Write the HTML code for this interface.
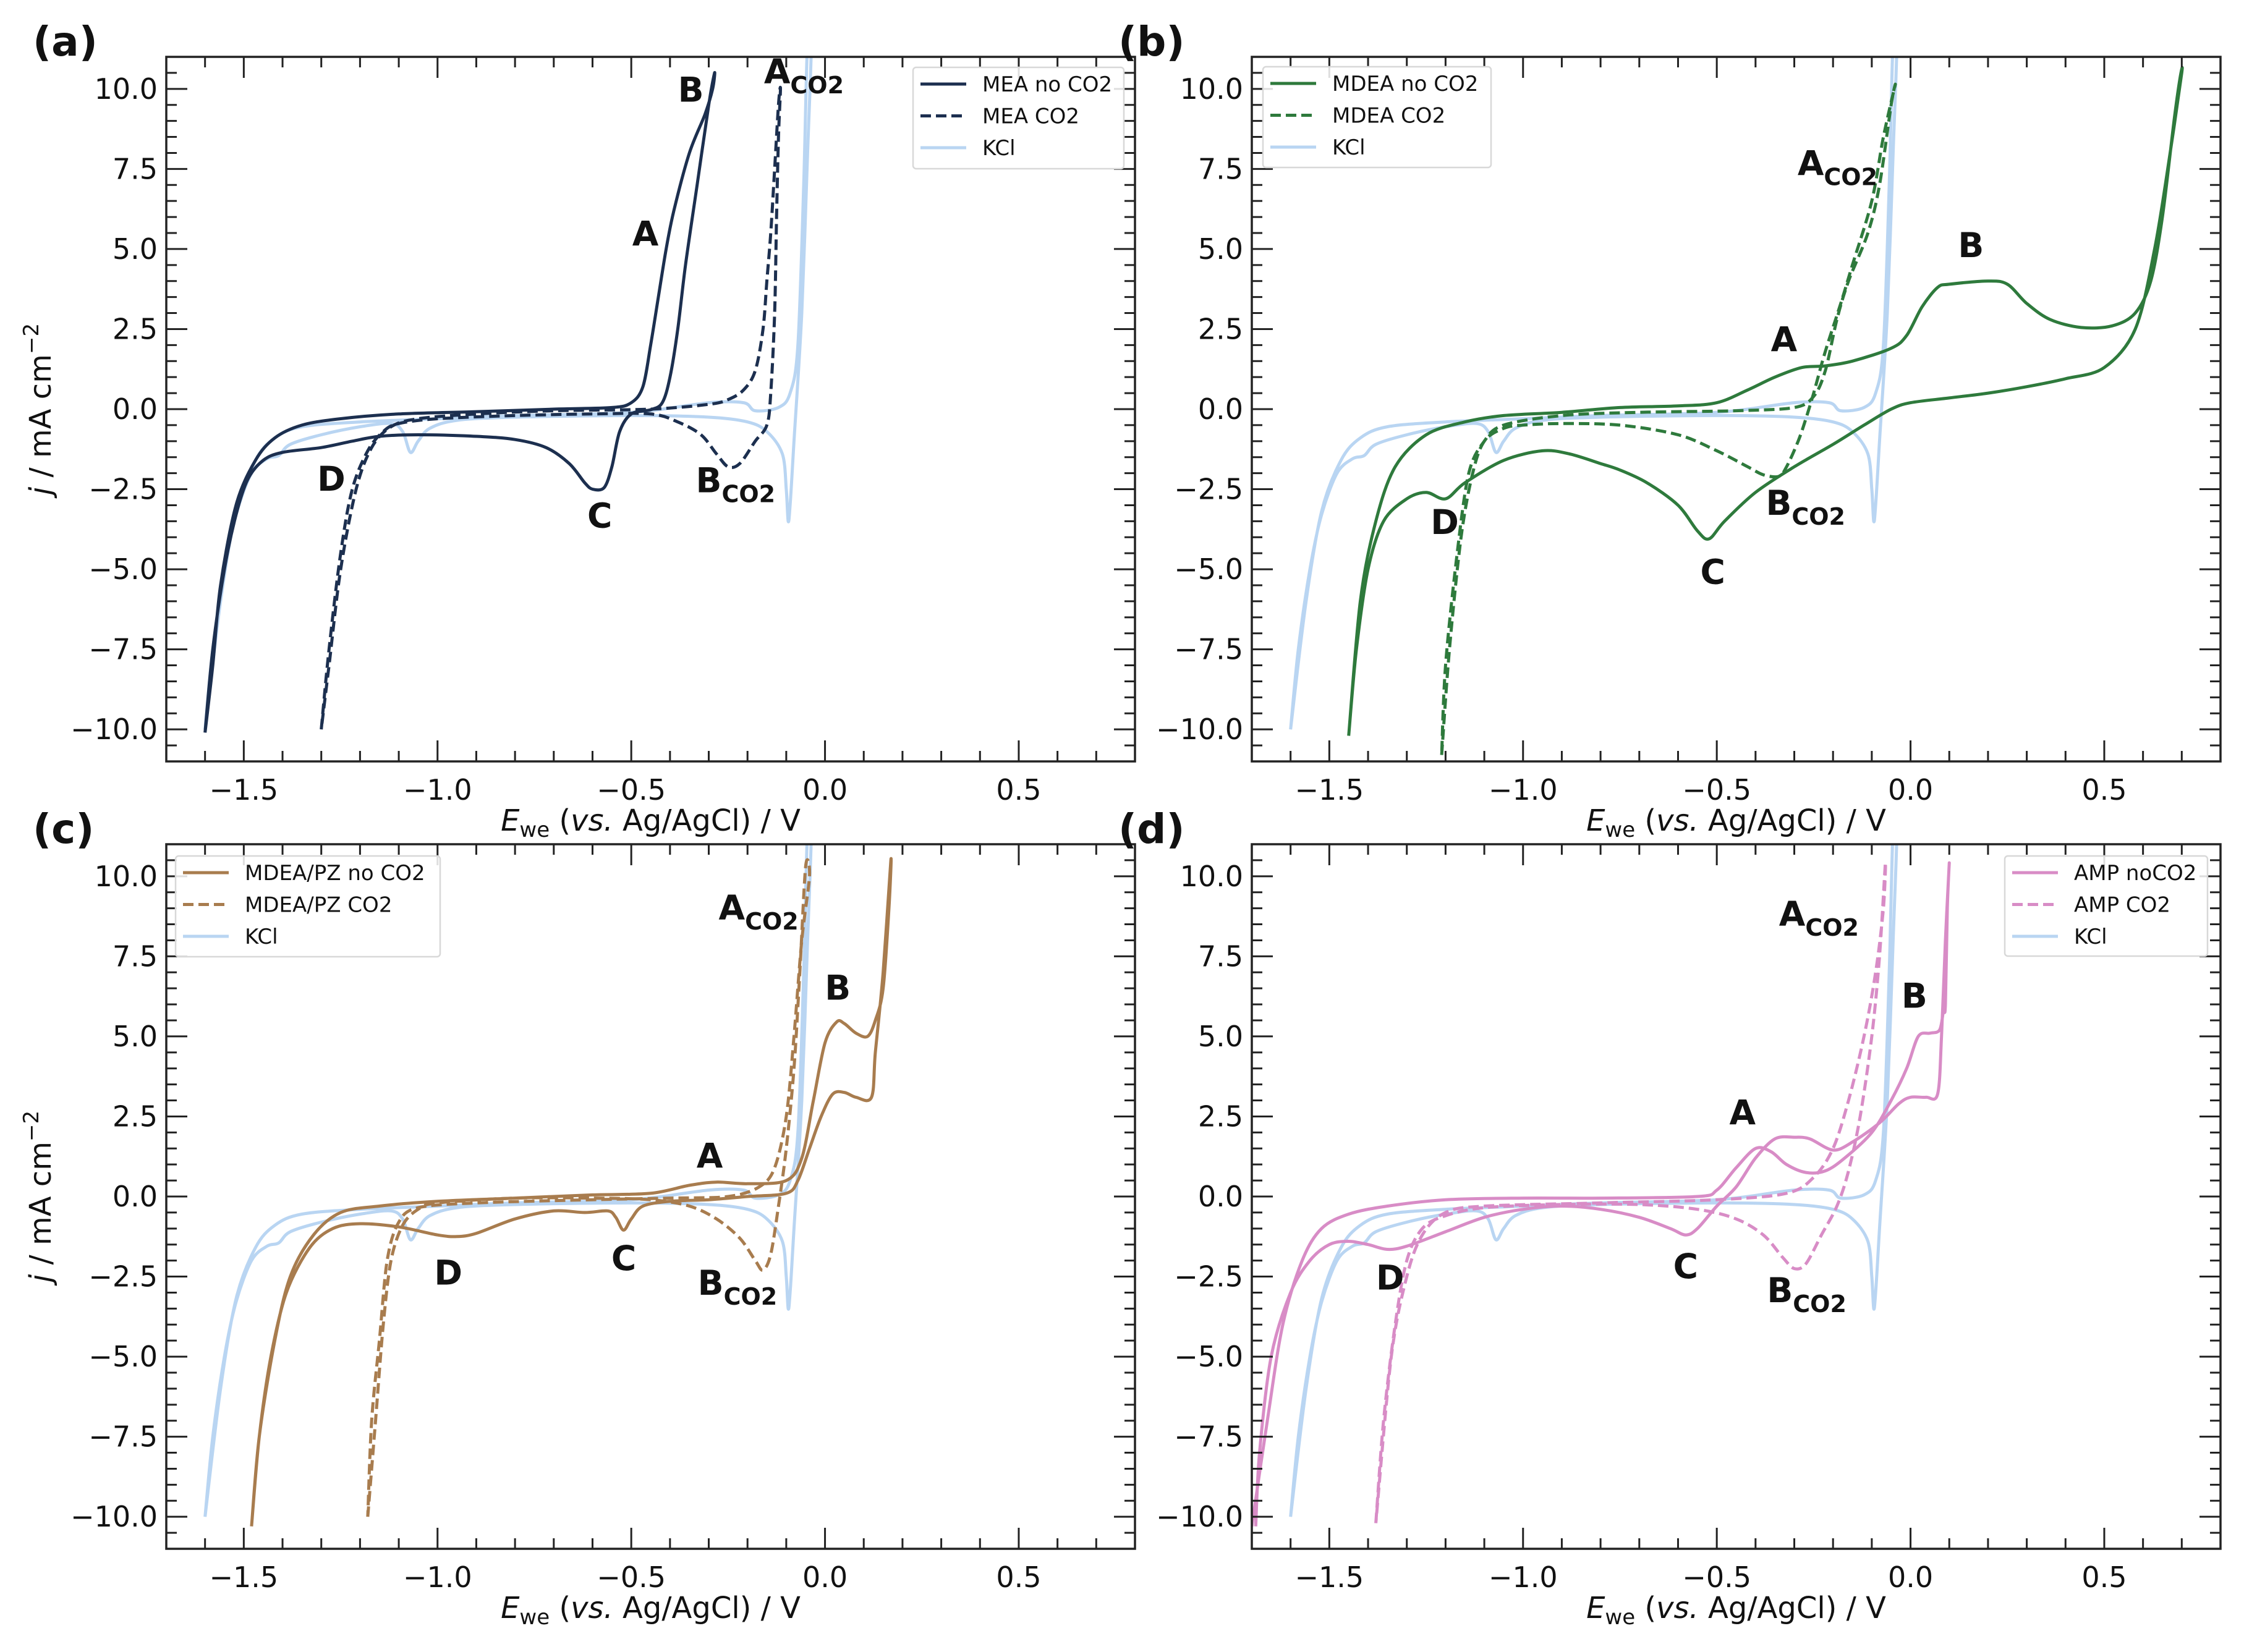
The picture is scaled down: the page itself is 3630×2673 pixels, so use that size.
<!DOCTYPE html>
<html><head><meta charset="utf-8"><style>
html,body{margin:0;padding:0;background:#fff}
svg{display:block}
text{font-family:"DejaVu Sans","Liberation Sans",sans-serif}
</style></head><body>
<svg id="fig" width="3630" height="2673" viewBox="0 0 3630 2673" xmlns="http://www.w3.org/2000/svg"></svg>
<script>
// ---- data: [E (V), j (mA cm^-2)] pairs ----
const kclE=[-1.6,-1.58,-1.55,-1.52,-1.48,-1.44,-1.41,-1.38,-1.3,-1.2,-1.12,-1.09,-1.07,-1.05,-1.02,-0.95,-0.8,-0.5,-0.3,-0.2,-0.15,-0.11,-0.1,-0.095,-0.09,-0.08,-0.06,-0.045,-0.035,-0.045,-0.055,-0.07,-0.09,-0.12,-0.18,-0.21,-0.3,-0.5,-0.8,-1.0,-1.2,-1.35,-1.42,-1.47,-1.52,-1.56,-1.6];
const kclJ=[-10,-7.5,-5,-3.3,-2.0,-1.55,-1.45,-1.1,-0.8,-0.55,-0.45,-0.7,-1.35,-1.0,-0.6,-0.35,-0.25,-0.2,-0.25,-0.4,-0.7,-1.4,-2.5,-3.5,-3.0,-1.0,3,8,11.5,11.5,7,2,0.5,0.05,-0.05,0.2,0.2,-0.1,-0.2,-0.3,-0.4,-0.55,-0.9,-1.6,-3.2,-6,-10];

const meaE=[-1.6,-1.58,-1.55,-1.52,-1.49,-1.45,-1.4,-1.3,-1.22,-1.15,-1.05,-0.9,-0.8,-0.72,-0.66,-0.62,-0.6,-0.57,-0.55,-0.53,-0.5,-0.45,-0.42,-0.4,-0.38,-0.36,-0.33,-0.3,-0.285,-0.29,-0.31,-0.35,-0.39,-0.41,-0.43,-0.45,-0.47,-0.5,-0.55,-0.7,-0.9,-1.1,-1.25,-1.35,-1.42,-1.47,-1.52,-1.56,-1.58,-1.6];
const meaJ=[-10.1,-7.5,-5,-3.3,-2.2,-1.6,-1.35,-1.2,-1.0,-0.85,-0.8,-0.85,-0.95,-1.2,-1.7,-2.3,-2.5,-2.45,-1.8,-0.7,-0.15,-0.02,0.2,1.0,2.5,4.5,7,9.5,10.5,10.0,9.2,8.0,6.2,5.0,3.5,2.0,0.7,0.2,0.05,0.0,-0.08,-0.15,-0.3,-0.5,-0.9,-1.6,-3.0,-5.5,-8,-10.1];
const meaCO2E=[-1.3,-1.28,-1.25,-1.22,-1.18,-1.14,-1.1,-1.0,-0.8,-0.6,-0.45,-0.38,-0.32,-0.28,-0.25,-0.22,-0.18,-0.15,-0.14,-0.13,-0.125,-0.12,-0.115,-0.12,-0.13,-0.14,-0.15,-0.16,-0.18,-0.21,-0.25,-0.3,-0.45,-0.7,-0.9,-1.05,-1.12,-1.17,-1.21,-1.25,-1.28,-1.3];
const meaCO2J=[-10,-7.5,-4.5,-2.5,-1.3,-0.7,-0.45,-0.3,-0.2,-0.15,-0.15,-0.4,-0.8,-1.4,-1.8,-1.7,-1.0,-0.5,0.5,3,6,8.5,10,9.5,7.5,5.5,4.0,2.5,1.2,0.6,0.3,0.15,0.0,-0.05,-0.15,-0.3,-0.55,-1.2,-2.5,-5,-8,-10];

const mdeaE=[-1.45,-1.43,-1.4,-1.36,-1.3,-1.25,-1.2,-1.15,-1.05,-0.95,-0.88,-0.8,-0.75,-0.68,-0.6,-0.55,-0.52,-0.48,-0.4,-0.3,-0.2,-0.12,-0.05,0.0,0.1,0.2,0.3,0.4,0.5,0.58,0.63,0.67,0.7,0.695,0.68,0.65,0.62,0.58,0.52,0.44,0.36,0.3,0.25,0.2,0.1,0.07,0.03,-0.01,-0.05,-0.15,-0.22,-0.28,-0.35,-0.42,-0.5,-0.6,-0.75,-0.9,-1.05,-1.15,-1.25,-1.33,-1.38,-1.42,-1.45];
const mdeaJ=[-10.2,-7.5,-5,-3.5,-2.8,-2.6,-2.8,-2.3,-1.6,-1.3,-1.4,-1.7,-1.9,-2.3,-3.0,-3.8,-4.05,-3.5,-2.6,-1.8,-1.1,-0.5,0.0,0.2,0.35,0.5,0.7,0.95,1.3,2.5,5,8,10.5,10.3,9,6,4.0,3.0,2.6,2.55,2.8,3.3,3.9,4.0,3.9,3.8,3.2,2.3,1.9,1.5,1.35,1.3,1.0,0.6,0.2,0.1,0.05,-0.1,-0.2,-0.4,-0.8,-1.8,-3.5,-6,-10.2];
const mdeaCO2E=[-1.21,-1.19,-1.16,-1.13,-1.1,-1.05,-1.0,-0.9,-0.75,-0.6,-0.5,-0.42,-0.38,-0.34,-0.32,-0.29,-0.27,-0.25,-0.22,-0.18,-0.15,-0.1,-0.07,-0.04,-0.05,-0.08,-0.11,-0.16,-0.19,-0.22,-0.25,-0.3,-0.45,-0.7,-0.9,-1.05,-1.1,-1.14,-1.17,-1.2,-1.21];
const mdeaCO2J=[-10.8,-7.5,-4,-2,-1.0,-0.6,-0.5,-0.45,-0.5,-0.8,-1.3,-1.8,-2.05,-2.1,-1.8,-1.0,-0.3,0.5,1.8,3.3,4.5,6.5,8.5,10.1,9.5,7,5.5,4.0,2.8,1.2,0.4,0.05,-0.05,-0.1,-0.2,-0.5,-1.0,-2,-4.5,-8,-10.8];

const pzE=[-1.48,-1.46,-1.43,-1.39,-1.33,-1.27,-1.2,-1.1,-1.0,-0.95,-0.9,-0.8,-0.7,-0.62,-0.56,-0.54,-0.52,-0.5,-0.47,-0.4,-0.3,-0.2,-0.1,-0.07,-0.04,-0.01,0.02,0.05,0.08,0.12,0.13,0.15,0.17,0.165,0.15,0.13,0.11,0.08,0.05,0.03,0.0,-0.03,-0.06,-0.1,-0.2,-0.28,-0.35,-0.45,-0.6,-0.8,-1.0,-1.15,-1.25,-1.32,-1.38,-1.42,-1.46,-1.48];
const pzJ=[-10.3,-7.5,-5,-3,-1.6,-1.0,-0.85,-0.95,-1.2,-1.25,-1.15,-0.7,-0.45,-0.5,-0.45,-0.65,-1.05,-0.7,-0.3,-0.15,-0.1,0.0,0.1,0.5,1.5,2.5,3.2,3.25,3.1,3.1,4.5,7,10.5,9,6.5,5.5,5.0,5.1,5.4,5.45,4.8,3.0,1.2,0.5,0.4,0.45,0.35,0.1,0.05,-0.05,-0.15,-0.3,-0.5,-1.2,-2.5,-4.5,-7.5,-10.3];
const pzCO2E=[-1.18,-1.16,-1.14,-1.12,-1.09,-1.05,-1.0,-0.8,-0.6,-0.45,-0.35,-0.28,-0.22,-0.18,-0.16,-0.14,-0.12,-0.1,-0.08,-0.065,-0.05,-0.04,-0.06,-0.08,-0.1,-0.13,-0.17,-0.25,-0.4,-0.6,-0.9,-1.05,-1.1,-1.13,-1.15,-1.17,-1.18];
const pzCO2J=[-10,-7,-4,-2,-0.9,-0.4,-0.2,-0.05,-0.05,-0.1,-0.3,-0.7,-1.3,-2.0,-2.3,-1.8,-0.3,1.5,4,7,10.3,10.0,8,5,2.5,0.9,0.3,0.0,-0.05,-0.1,-0.2,-0.35,-0.8,-2.0,-4.5,-7,-10];

const ampE=[-1.69,-1.68,-1.65,-1.6,-1.55,-1.5,-1.45,-1.4,-1.35,-1.3,-1.2,-1.1,-1.0,-0.9,-0.8,-0.7,-0.62,-0.58,-0.55,-0.5,-0.45,-0.4,-0.35,-0.3,-0.26,-0.2,-0.15,-0.08,-0.03,0.0,0.04,0.07,0.08,0.09,0.1,0.095,0.09,0.085,0.075,0.05,0.02,-0.01,-0.05,-0.1,-0.17,-0.22,-0.27,-0.32,-0.36,-0.4,-0.45,-0.5,-0.55,-0.8,-1.0,-1.2,-1.35,-1.45,-1.52,-1.57,-1.62,-1.66,-1.7];
const ampJ=[-10.3,-8,-5,-3,-2,-1.5,-1.4,-1.5,-1.65,-1.55,-1.1,-0.65,-0.4,-0.3,-0.4,-0.65,-1.0,-1.2,-1.0,-0.3,0.3,1.2,1.8,1.85,1.8,1.45,1.7,2.3,2.9,3.1,3.1,3.2,5,8,10.4,9,6,5.8,5.2,5.1,5.0,4.0,3.0,2.0,1.2,0.8,0.75,1.0,1.4,1.5,0.9,0.2,0.0,-0.05,-0.05,-0.1,-0.3,-0.55,-1.0,-2.0,-4,-7,-10.3];
const ampCO2E=[-1.38,-1.36,-1.33,-1.3,-1.26,-1.2,-1.1,-0.9,-0.7,-0.55,-0.45,-0.38,-0.33,-0.3,-0.27,-0.23,-0.19,-0.16,-0.13,-0.1,-0.08,-0.065,-0.07,-0.09,-0.12,-0.16,-0.2,-0.25,-0.32,-0.5,-0.8,-1.1,-1.2,-1.26,-1.3,-1.34,-1.38];
const ampCO2J=[-10.2,-7,-4,-2,-1.0,-0.6,-0.35,-0.25,-0.25,-0.4,-0.7,-1.2,-1.9,-2.25,-2.1,-1.2,-0.3,0.8,2.5,5.0,7.5,10.4,9,7,5,3,1.5,0.6,0.1,-0.1,-0.2,-0.3,-0.5,-1.2,-2.5,-5,-10.2];

const xTicks=[-1.5,-1.0,-0.5,0.0,0.5];
const xTickLabels=["\u22121.5","\u22121.0","\u22120.5","0.0","0.5"];
const yTicks=[10,7.5,5,2.5,0,-2.5,-5,-7.5,-10];
const yTickLabels=["10.0","7.5","5.0","2.5","0.0","\u22122.5","\u22125.0","\u22127.5","\u221210.0"];

const KCL="#b9d5f2";
const panels=[
 {id:"a",x:269,y:92,color:"#1c2f4f",series:[[meaE,meaJ,"MEA no CO2",false],[meaCO2E,meaCO2J,"MEA CO2",true]],
  legend:{x:1477,y:109,w:341,h:164},
  ann:[["B","",-0.346,9.6],["A","",-0.464,5.1],["A","CO2",-0.124,10.17],["C","",-0.58,-3.7],["D","",-1.277,-2.55],["B","CO2",-0.30,-2.6]]},
 {id:"b",x:2025,y:92,color:"#2e7a3c",series:[[mdeaE,mdeaJ,"MDEA no CO2",false],[mdeaCO2E,mdeaCO2J,"MDEA CO2",true]],
  legend:{x:2043,y:108,w:369,h:163},
  ann:[["A","CO2",-0.258,7.3],["B","",0.156,4.75],["A","",-0.327,1.8],["D","",-1.205,-3.9],["C","",-0.509,-5.45],["B","CO2",-0.34,-3.3]]},
 {id:"c",x:269,y:1366,color:"#a87c4e",series:[[pzE,pzJ,"MDEA/PZ no CO2",false],[pzCO2E,pzCO2J,"MDEA/PZ CO2",true]],
  legend:{x:284,y:1385,w:428,h:163},
  ann:[["A","CO2",-0.241,8.65],["B","",0.033,6.15],["A","",-0.298,0.9],["C","",-0.518,-2.3],["D","",-0.975,-2.75],["B","CO2",-0.295,-3.07]]},
 {id:"d",x:2025,y:1366,color:"#d88cc6",series:[[ampE,ampJ,"AMP noCO2",false],[ampCO2E,ampCO2J,"AMP CO2",true]],
  legend:{x:3243,y:1385,w:328,h:162},
  ann:[["A","CO2",-0.306,8.45],["B","",0.01,5.9],["A","",-0.434,2.25],["C","",-0.579,-2.55],["D","",-1.346,-2.9],["B","CO2",-0.337,-3.3]]}
];
const W=1567,H=1140,XMIN=-1.7,XMAX=0.8,YMIN=-11,YMAX=11;
const NS="http://www.w3.org/2000/svg";
const svg=document.getElementById("fig");
function mk(tag,attrs,parent,txt){const e=document.createElementNS(NS,tag);for(const k in attrs)e.setAttribute(k,attrs[k]);if(txt!==undefined)e.textContent=txt;(parent||svg).appendChild(e);return e;}
function smooth(pts){
  let d="M"+pts[0][0].toFixed(1)+","+pts[0][1].toFixed(1);
  for(let i=0;i<pts.length-1;i++){
    const p0=pts[Math.max(0,i-1)],p1=pts[i],p2=pts[i+1],p3=pts[Math.min(pts.length-1,i+2)];
    const t=0.16;
    const c1=[p1[0]+(p2[0]-p0[0])*t,p1[1]+(p2[1]-p0[1])*t];
    const c2=[p2[0]-(p3[0]-p1[0])*t,p2[1]-(p3[1]-p1[1])*t];
    d+="C"+c1[0].toFixed(1)+","+c1[1].toFixed(1)+" "+c2[0].toFixed(1)+","+c2[1].toFixed(1)+" "+p2[0].toFixed(1)+","+p2[1].toFixed(1);
  }
  return d;
}

panels.forEach(p=>{
  const sx=v=>p.x+(v-XMIN)/(XMAX-XMIN)*W;
  const sy=v=>p.y+(YMAX-v)/(YMAX-YMIN)*H;
  const g=mk("g",{});
  
  
  const cid="clip"+p.id;
  const cp=mk("clipPath",{id:cid},g);mk("rect",{x:p.x,y:p.y,width:W,height:H},cp);
  const plot=mk("g",{"clip-path":"url(#"+cid+")"},g);
  function line(E,J,color,dashed,name){
    const pts=E.map((e,i)=>[sx(e),sy(J[i])]);
    const pth=mk("path",{d:smooth(pts),fill:"none",stroke:color,"stroke-width":5,"stroke-linejoin":"round","stroke-dasharray":dashed?"17,8":"none"},plot);
    
    
  }
  line(kclE,kclJ,KCL,false,'kcl-curve');
  p.series.forEach((s,i)=>line(s[0],s[1],p.color,s[3],i?'co2-curve':'no-co2-curve'));
  const tk=mk("g",{stroke:"#222","stroke-width":3},g);
  for(let v=-1.7;v<=0.8001;v+=0.1){const vv=Math.round(v*10)/10;const maj=Math.abs(vv*2-Math.round(vv*2))<1e-6;const L=maj?34:17;const X=sx(vv);
    mk("line",{x1:X,y1:p.y+H,x2:X,y2:p.y+H-L},tk);mk("line",{x1:X,y1:p.y,x2:X,y2:p.y+L},tk);}
  for(let v=-11;v<=11.001;v+=0.5){const maj=Math.abs(v/2.5-Math.round(v/2.5))<1e-6;const L=maj?34:17;const Y=sy(v);
    mk("line",{x1:p.x,y1:Y,x2:p.x+L,y2:Y},tk);mk("line",{x1:p.x+W,y1:Y,x2:p.x+W-L,y2:Y},tk);}
  const fr=mk("rect",{x:p.x,y:p.y,width:W,height:H,fill:"none",stroke:"#222","stroke-width":3.5},g);
  
  
  xTicks.forEach((v,i)=>{const t=mk("text",{x:sx(v),y:p.y+H+62,"font-size":46,"text-anchor":"middle",fill:"#111"},g,xTickLabels[i]);
    
    });
  yTicks.forEach((v,i)=>{const t=mk("text",{x:p.x-14,y:sy(v)+16,"font-size":46,"text-anchor":"end",fill:"#111"},g,yTickLabels[i]);
    
    });
  const xl=mk("text",{x:p.x+W/2,y:p.y+H+112,"font-size":48,"text-anchor":"middle",fill:"#111"},g);
  
  
  mk("tspan",{"font-style":"italic"},xl,"E");mk("tspan",{"font-size":34,dy:10},xl,"we");
  mk("tspan",{dy:-10},xl," (");mk("tspan",{"font-style":"italic"},xl,"vs.");mk("tspan",{},xl,"  Ag/AgCl) / V");
  if(p.id==="a"||p.id==="c"){
    const cy=p.y+H/2;
    const yl=mk("text",{x:0,y:0,"font-size":48,"text-anchor":"middle",fill:"#111",transform:"translate(82,"+cy+") rotate(-90)"},g);
    
    
    mk("tspan",{"font-style":"italic"},yl,"j");mk("tspan",{},yl," / mA cm");mk("tspan",{"font-size":34,dy:-20},yl,"\u22122");
  }
  const pl=mk("text",{x:p.x-216,y:p.y-2,"font-size":66,"font-weight":"bold",fill:"#111"},g,"("+p.id+")");
  
  
  p.ann.forEach(a=>{const t=mk("text",{x:sx(a[2]),y:sy(a[3]),"font-size":55,"font-weight":"bold","text-anchor":"start",fill:"#111",transform:"translate(-21,0)"},g);
    
    
    mk("tspan",{},t,a[0]);if(a[1])mk("tspan",{"font-size":38,dy:16},t,a[1]);});
  const L=p.legend;
  const lg=mk("g",{},g);
  
  
  mk("rect",{x:L.x,y:L.y,width:L.w,height:L.h,fill:"#fff","fill-opacity":0.85,stroke:"#d8d8d8","stroke-width":2.5,rx:5},lg);
  const entries=[[p.color,false,p.series[0][2]],[p.color,true,p.series[1][2]],[KCL,false,"KCl"]];
  entries.forEach((en,i)=>{const yy=L.y+27+i*51.5;
    const eg=mk("g",{},lg);
    
    
    mk("line",{x1:L.x+12,y1:yy,x2:L.x+86,y2:yy,stroke:en[0],"stroke-width":5,"stroke-dasharray":en[1]?"17,8":"none"},eg);
    mk("text",{x:L.x+112,y:yy+12,"font-size":34,fill:"#111"},eg,en[2]);});
});
</script>
</body></html>
